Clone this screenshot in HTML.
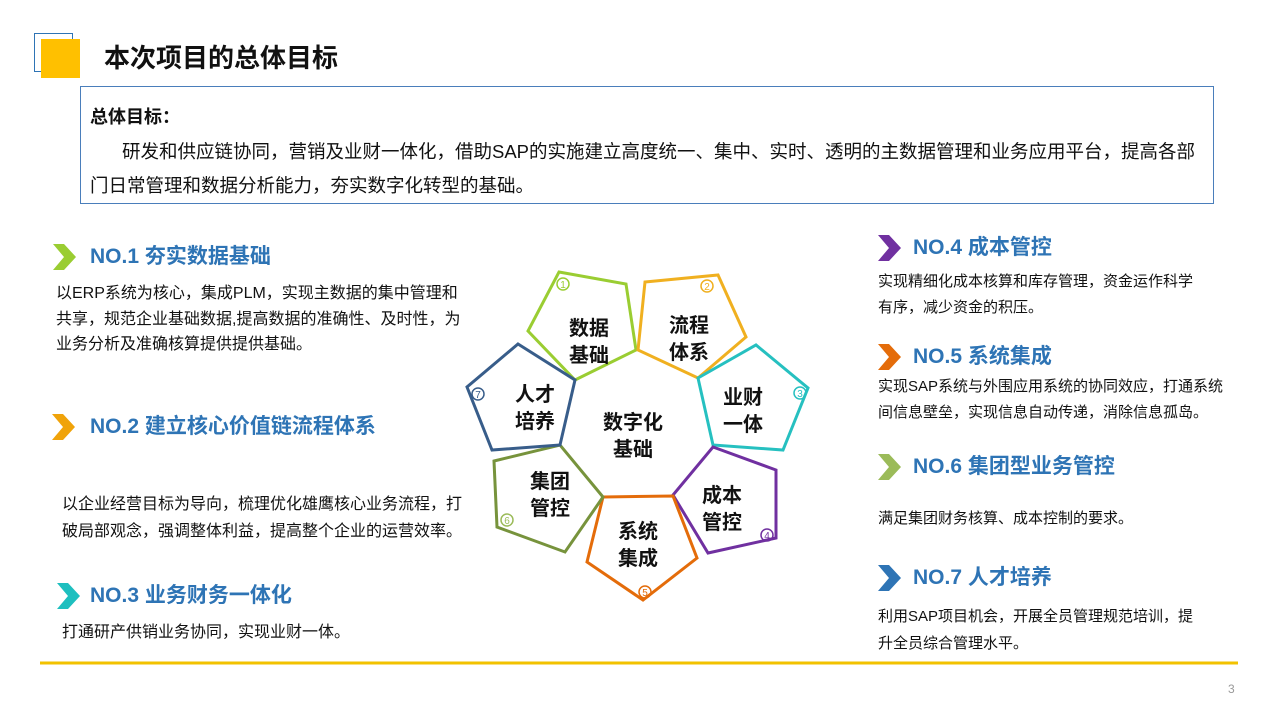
<!DOCTYPE html>
<html><head><meta charset="utf-8"><style>
body{margin:0;width:1280px;height:720px;background:#fff;position:relative;overflow:hidden;font-family:"Liberation Sans","Noto Sans CJK SC",sans-serif;color:#111}
.a{position:absolute;white-space:nowrap}
.h{font-size:21px;font-weight:bold;color:#2e74b5;line-height:26px}
.t{font-size:16px;line-height:22px;color:#111}
.r{font-size:15px;line-height:22px;color:#111}
</style></head><body>
<div class="a" style="left:34px;top:33px;width:39px;height:39px;border:1px solid #2e74b5;box-sizing:border-box"></div>
<div class="a" style="left:41px;top:39px;width:39px;height:39px;background:#ffc000"></div>
<div class="a" style="left:104px;top:42px;font-size:26px;font-weight:bold;line-height:32px">本次项目的总体目标</div>
<div class="a" style="left:80px;top:86px;width:1134px;height:118px;border:1px solid #4a7ebb;box-sizing:border-box"></div>
<div class="a" style="left:90px;top:105px;font-size:18px;font-weight:bold;line-height:24px">总体目标：</div>
<div class="a" style="left:122px;top:140px;font-size:18.5px;line-height:24px">研发和供应链协同，营销及业财一体化，借助SAP的实施建立高度统一、集中、实时、透明的主数据管理和业务应用平台，提高各部</div>
<div class="a" style="left:90px;top:174px;font-size:18.5px;line-height:24px">门日常管理和数据分析能力，夯实数字化转型的基础。</div>

<svg class="a" style="left:0;top:0" width="1280" height="720">
<g>
<polygon points="53,244 64,244 76,257 64,270 53,270 64,257" fill="#9acd32"/>
<polygon points="52,414 63,414 75,427 63,440 52,440 63,427" fill="#f0a30a"/>
<polygon points="57,583 68,583 80,596 68,609 57,609 68,596" fill="#1ebfbf"/>
<polygon points="878,235 889,235 901,248 889,261 878,261 889,248" fill="#7030a0"/>
<polygon points="878,344 889,344 901,357 889,370 878,370 889,357" fill="#e46c0a"/>
<polygon points="878,454 889,454 901,467 889,480 878,480 889,467" fill="#9bbb59"/>
<polygon points="878,565 889,565 901,578 889,591 878,591 889,578" fill="#2e74b5"/>
</g>
<g fill="none" stroke-width="3" stroke-linejoin="miter">
<polygon points="559,272 626,284 636,350 575,380 528,331" stroke="#9acd32"/>
<polygon points="645,282 718,275 746,337 698,378 638,350" stroke="#f0b020"/>
<polygon points="698,378 756,345 808,388 783,450 713,445" stroke="#26c0c0"/>
<polygon points="713,447 776,470 776,538 708,553 673,495" stroke="#7030a0"/>
<polygon points="603,497 673,496 697,558 643,600 587,562" stroke="#e46c0a"/>
<polygon points="494,461 560,445 603,497 565,552 497,527" stroke="#77933c"/>
<polygon points="518,344 575,380 560,445 492,450 467,387" stroke="#385d8a"/>
</g>
<g font-size="10" text-anchor="middle" font-family="Liberation Sans,sans-serif">
<circle cx="563" cy="284" r="6" fill="none" stroke="#9acd32" stroke-width="1.5"/><text x="563" y="288" fill="#9acd32">1</text>
<circle cx="707" cy="286" r="6" fill="none" stroke="#f0b020" stroke-width="1.5"/><text x="707" y="290" fill="#f0b020">2</text>
<circle cx="800" cy="393" r="6" fill="none" stroke="#26c0c0" stroke-width="1.5"/><text x="800" y="397" fill="#26c0c0">3</text>
<circle cx="767" cy="535" r="6" fill="none" stroke="#7030a0" stroke-width="1.5"/><text x="767" y="539" fill="#7030a0">4</text>
<circle cx="645" cy="592" r="6" fill="none" stroke="#e46c0a" stroke-width="1.5"/><text x="645" y="596" fill="#e46c0a">5</text>
<circle cx="507" cy="520" r="6" fill="none" stroke="#9bbb59" stroke-width="1.5"/><text x="507" y="524" fill="#9bbb59">6</text>
<circle cx="478" cy="394" r="6" fill="none" stroke="#385d8a" stroke-width="1.5"/><text x="478" y="398" fill="#385d8a">7</text>
</g>
<g font-size="20" font-weight="bold" text-anchor="middle" fill="#111" font-family="Liberation Sans,Noto Sans CJK SC,sans-serif">
<text x="589" y="335">数据</text><text x="589" y="362">基础</text>
<text x="689" y="332">流程</text><text x="689" y="359">体系</text>
<text x="743" y="404">业财</text><text x="743" y="431">一体</text>
<text x="722" y="502">成本</text><text x="722" y="529">管控</text>
<text x="638" y="538">系统</text><text x="638" y="565">集成</text>
<text x="550" y="488">集团</text><text x="550" y="515">管控</text>
<text x="535" y="401">人才</text><text x="535" y="428">培养</text>
<text x="633" y="429">数字化</text><text x="633" y="456">基础</text>
</g>
<line x1="40" y1="663" x2="1238" y2="663" stroke="#f2c200" stroke-width="3"/>
</svg>

<div class="a h" style="left:90px;top:244px">NO.1 夯实数据基础</div>
<div class="a t" style="left:56px;top:283px">以ERP系统为核心，集成PLM，实现主数据的集中管理和</div>
<div class="a t" style="left:56px;top:309px">共享，规范企业基础数据,提高数据的准确性、及时性，为</div>
<div class="a t" style="left:56px;top:334px">业务分析及准确核算提供提供基础。</div>
<div class="a h" style="left:90px;top:414px">NO.2 建立核心价值链流程体系</div>
<div class="a t" style="left:62px;top:494px">以企业经营目标为导向，梳理优化雄鹰核心业务流程，打</div>
<div class="a t" style="left:62px;top:521px">破局部观念，强调整体利益，提高整个企业的运营效率。</div>
<div class="a h" style="left:90px;top:583px">NO.3 业务财务一体化</div>
<div class="a t" style="left:62px;top:622px">打通研产供销业务协同，实现业财一体。</div>

<div class="a h" style="left:913px;top:235px">NO.4 成本管控</div>
<div class="a r" style="left:878px;top:271px">实现精细化成本核算和库存管理，资金运作科学</div>
<div class="a r" style="left:878px;top:297px">有序，减少资金的积压。</div>
<div class="a h" style="left:913px;top:344px">NO.5 系统集成</div>
<div class="a r" style="left:878px;top:376px">实现SAP系统与外围应用系统的协同效应，打通系统</div>
<div class="a r" style="left:878px;top:402px">间信息壁垒，实现信息自动传递，消除信息孤岛。</div>
<div class="a h" style="left:913px;top:454px">NO.6 集团型业务管控</div>
<div class="a r" style="left:878px;top:508px">满足集团财务核算、成本控制的要求。</div>
<div class="a h" style="left:913px;top:565px">NO.7 人才培养</div>
<div class="a r" style="left:878px;top:606px">利用SAP项目机会，开展全员管理规范培训，提</div>
<div class="a r" style="left:878px;top:633px">升全员综合管理水平。</div>
<div class="a" style="left:1228px;top:682px;font-size:12px;color:#999">3</div>
</body></html>
